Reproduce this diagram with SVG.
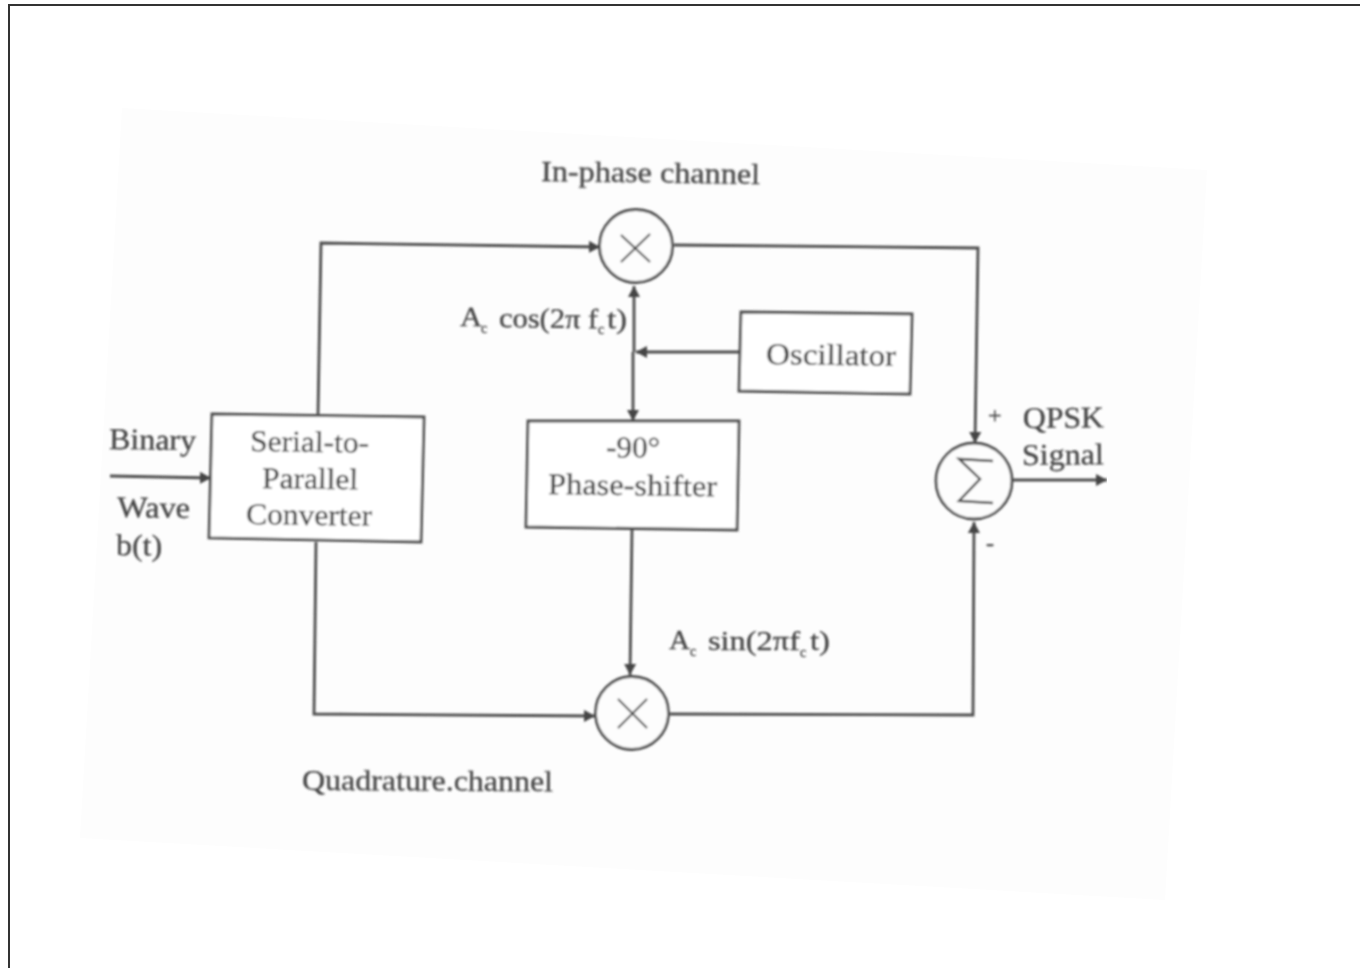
<svg xmlns="http://www.w3.org/2000/svg" width="1360" height="968" viewBox="0 0 1360 968">
<style>
text{font-family:"Liberation Serif","DejaVu Serif",serif;fill:#444;font-size:30px;stroke:#444;stroke-width:.3}
.s{font-size:14px}
.f{font-size:28px}
.box,.op{fill:#fff;stroke:#4c4c4c;stroke-width:2.8}
.op{fill:#fdfdfd}
.w{fill:none;stroke:#4c4c4c;stroke-width:2.8}
.m{fill:none;stroke:#444;stroke-width:2}
.frame{fill:none;stroke:#333;stroke-width:2}
</style>
<defs>
<marker id="a" markerUnits="userSpaceOnUse" markerWidth="12" markerHeight="14" refX="11" refY="6" orient="auto"><path d="M0 0L11 6L0 12Z" fill="#444"/></marker>
<filter id="soft" x="0" y="0" width="100%" height="100%"><feGaussianBlur stdDeviation="0.85"/></filter>
</defs>
<rect width="1360" height="968" fill="#fff"/>
<polygon points="122,108 1207,170 1165,900 80,838" fill="#fdfdfd"/>
<path class="frame" d="M9 968V5H1360"/>
<g filter="url(#soft)">
<g id="connectors">
<path class="w" marker-end="url(#a)" d="M110 476L211 478"/>
<path class="w" marker-end="url(#a)" d="M318 414L321 243L600 247"/>
<path class="w" marker-end="url(#a)" d="M316 542L314 714L595 716"/>
<path class="w" marker-end="url(#a)" d="M634 352V286"/>
<path class="w" marker-end="url(#a)" d="M633 352V421"/>
<path class="w" marker-end="url(#a)" d="M740 352L636 352"/>
<path class="w" marker-end="url(#a)" d="M632 530L630 675"/>
<path class="w" marker-end="url(#a)" d="M674 245L978 248L975 443"/>
<path class="w" marker-end="url(#a)" d="M670 714L973 715L974 522"/>
<path class="w" marker-end="url(#a)" d="M1013 480L1107 480"/>
</g>
<g id="serial-to-parallel">
<polygon class="box" points="212,414 424,417 421,542 209,538"/>
<text x="250" y="451" textLength="119" lengthAdjust="spacingAndGlyphs" transform="rotate(.8 250 451)">Serial-to-</text>
<text x="262" y="488" textLength="96" lengthAdjust="spacingAndGlyphs" transform="rotate(.8 262 488)">Parallel</text>
<text x="246" y="524" textLength="126" lengthAdjust="spacingAndGlyphs" transform="rotate(.8 246 524)">Converter</text>
</g>
<g id="phase-shifter">
<polygon class="box" points="528,421 739,421 737,530 526,527"/>
<text x="606" y="457" textLength="54" lengthAdjust="spacingAndGlyphs" transform="rotate(.8 606 457)">-90°</text>
<text x="548" y="494" textLength="169" lengthAdjust="spacingAndGlyphs" transform="rotate(.8 548 494)">Phase-shifter</text>
</g>
<g id="oscillator">
<polygon class="box" points="741,312 912,314 910,394 739,391"/>
<text x="766" y="364" textLength="130" lengthAdjust="spacingAndGlyphs" transform="rotate(.8 766 364)">Oscillator</text>
</g>
<g id="mixer-top">
<circle class="op" cx="636" cy="246" r="36.5"/>
<path class="m" d="M621 235L650 262M650 234L621 262"/>
</g>
<g id="mixer-bottom">
<circle class="op" cx="632" cy="713" r="36.5"/>
<path class="m" d="M618 699L647 728M647 699L618 728"/>
</g>
<g id="summer">
<circle class="op" cx="974" cy="481" r="38"/>
<path class="m" style="stroke-width:2.4" d="M993 461L959 459L980 479L959 501L993 503"/>
</g>
<g id="labels">
<text x="541" y="181" textLength="219" lengthAdjust="spacingAndGlyphs" transform="rotate(.8 541 181)">In-phase channel</text>
<text x="109" y="449" textLength="87" lengthAdjust="spacingAndGlyphs" transform="rotate(.8 109 449)">Binary</text>
<text x="117" y="517" textLength="73" lengthAdjust="spacingAndGlyphs" transform="rotate(.8 117 517)">Wave</text>
<text x="116" y="555" textLength="46" lengthAdjust="spacingAndGlyphs" transform="rotate(.8 116 555)">b(t)</text>
<text class="f" x="460" y="326" textLength="22" lengthAdjust="spacingAndGlyphs" transform="rotate(.8 460 326)">A</text>
<text x="481" y="333" class="s">c</text>
<text class="f" x="499" y="327" textLength="99" lengthAdjust="spacingAndGlyphs" transform="rotate(.8 499 327)">cos(2π f</text>
<text x="598" y="334" class="s">c</text>
<text class="f" x="607" y="328" textLength="20" lengthAdjust="spacingAndGlyphs" transform="rotate(.8 607 328)">t)</text>
<text class="f" x="669" y="649" textLength="21" lengthAdjust="spacingAndGlyphs">A</text>
<text x="690" y="656" class="s">c</text>
<text class="f" x="708" y="650" textLength="92" lengthAdjust="spacingAndGlyphs">sin(2πf</text>
<text x="800" y="657" class="s">c</text>
<text class="f" x="810" y="650" textLength="20" lengthAdjust="spacingAndGlyphs">t)</text>
<text x="988" y="423" style="font-size:24px">+</text>
<text x="986" y="551" style="font-size:24px">-</text>
<text x="1023" y="428" textLength="81" lengthAdjust="spacingAndGlyphs" transform="rotate(-.5 1023 428)">QPSK</text>
<text x="1022" y="465" textLength="82" lengthAdjust="spacingAndGlyphs" transform="rotate(-.5 1022 465)">Signal</text>
<text x="302" y="790" textLength="251" lengthAdjust="spacingAndGlyphs" transform="rotate(.3 302 790)">Quadrature.channel</text>
</g>
</g>
</svg>
